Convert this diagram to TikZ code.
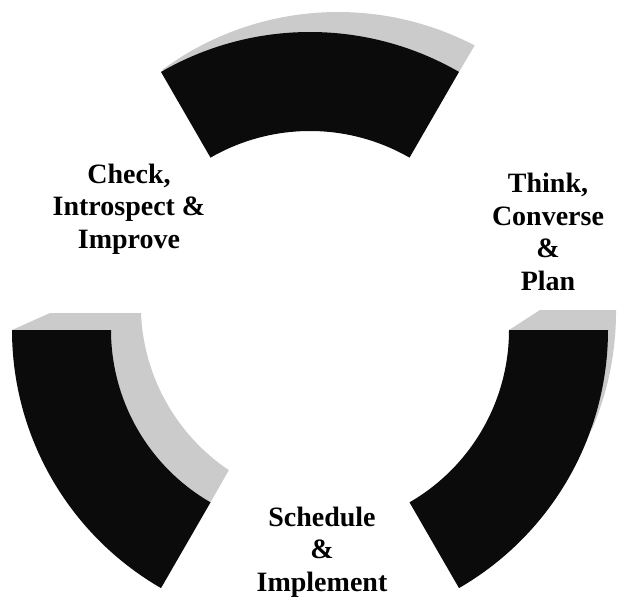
\documentclass[tikz,border=0pt]{standalone}
\usepackage{fontspec}
\setmainfont{Liberation Serif}
\usepackage{xcolor}
\definecolor{slabK}{HTML}{0B0B0B}
\definecolor{sideG}{HTML}{CBCBCB}
\begin{document}
\begin{tikzpicture}[x=1pt,y=1pt,
  lab/.style={align=center,font=\fontsize{28}{32.5}\selectfont\bfseries}]
  \def\Ro{298}
  \def\Ri{199}
  \useasboundingbox (-310,-267) rectangle (307,330);
  % grey side faces, behind the slabs
  \fill[sideG] ([shift={(28,22)}]126.5:296) arc[start angle=126.5,end angle=62.5,radius=296]
     -- (60:\Ro) -- cycle;
  \fill[sideG] (180:\Ro) -- (-260,17) -- (-169,17) arc[start angle=182.3,end angle=236.1,radius=\Ri]
     -- (240:\Ri) -- (240:\Ro) -- cycle;
  \fill[sideG] (0:\Ri) -- (230,20) -- (306,20) arc[start angle=0.4,end angle=-23.5,radius=\Ro]
     -- (0:\Ro) -- cycle;
  % black slabs
  \foreach \a in {60,180,300}{
     \fill[slabK] (\a:\Ro) arc[start angle=\a,end angle=\a+60,radius=\Ro]
        -- (\a+60:\Ri) arc[start angle=\a+60,end angle=\a,radius=\Ri] -- cycle;
  }
  % labels
  \node[lab] (check) at (-181,121) {Check,\\Introspect \&\\Improve};
  \node[lab] (think) at (238,98) {Think,\\Converse\\\&\\Plan};
  \node[lab] (sched) at (12,-222) {Schedule\\\&\\Implement};
\end{tikzpicture}
\end{document}
